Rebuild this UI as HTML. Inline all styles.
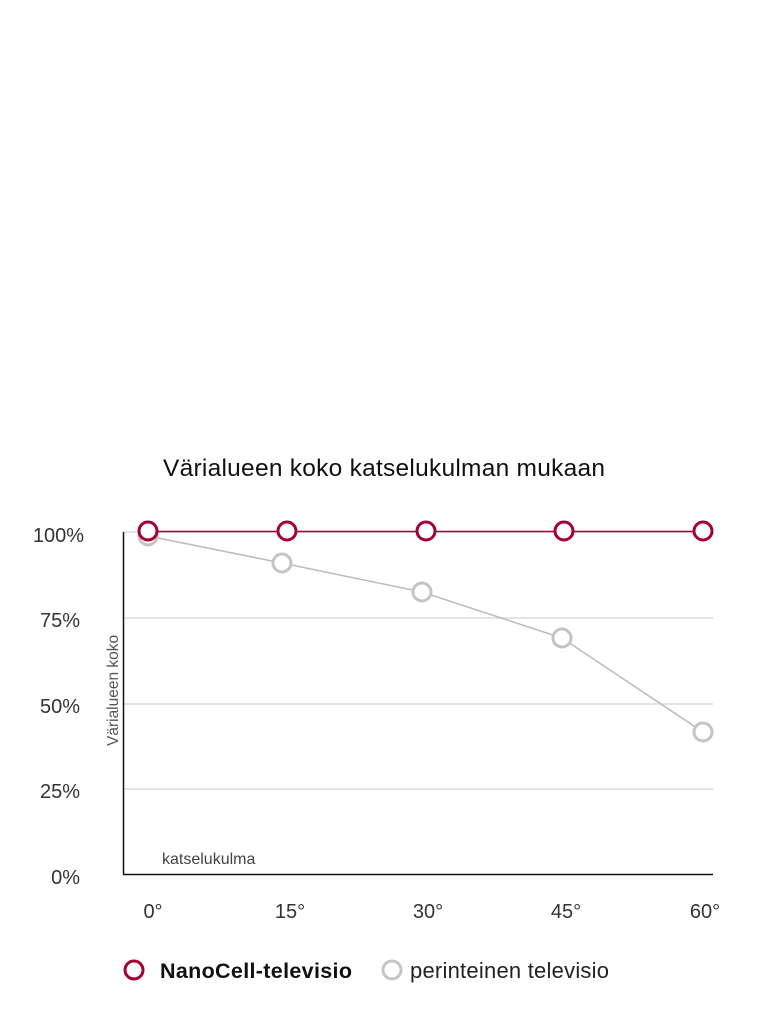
<!DOCTYPE html>
<html><head><meta charset="utf-8"><style>
html,body{margin:0;padding:0;background:#fff;}
body{width:768px;height:1031px;overflow:hidden;}
text{font-family:"Liberation Sans",sans-serif;}
</style></head><body>
<svg width="768" height="1031" viewBox="0 0 768 1031" xmlns="http://www.w3.org/2000/svg">
<text x="384" y="476" text-anchor="middle" font-size="24.5" fill="#111" textLength="442">Värialueen koko katselukulman mukaan</text>
<g stroke="#dcdcdc" stroke-width="1.5">
<line x1="123" y1="532" x2="713" y2="532"/>
<line x1="123" y1="618" x2="713" y2="618"/>
<line x1="123" y1="704" x2="713" y2="704"/>
<line x1="123" y1="789" x2="713" y2="789"/>
</g>
<line x1="123.5" y1="532" x2="123.5" y2="874" stroke="#111" stroke-width="1.5"/>
<line x1="123" y1="874.5" x2="713" y2="874.5" stroke="#111" stroke-width="1.5"/>
<g font-size="20" fill="#333" text-anchor="end">
<text x="84" y="542">100%</text>
<text x="80" y="627">75%</text>
<text x="80" y="713">50%</text>
<text x="80" y="798">25%</text>
<text x="80" y="884">0%</text>
</g>
<text transform="translate(118,746) rotate(-90)" font-size="15.5" fill="#555">Värialueen koko</text>
<text x="162" y="864" font-size="16" fill="#444">katselukulma</text>
<g font-size="20" fill="#333" text-anchor="middle">
<text x="153" y="918">0°</text>
<text x="290" y="918">15°</text>
<text x="428" y="918">30°</text>
<text x="566" y="918">45°</text>
<text x="705" y="918">60°</text>
</g>
<polyline points="148,536 282,563 422,592 562,638 703,732" fill="none" stroke="#bbb" stroke-width="1.5"/>
<g fill="#fff" stroke="#c4c4c4" stroke-width="3">
<circle cx="148" cy="536" r="9"/><circle cx="282" cy="563" r="9"/><circle cx="422" cy="592" r="9"/><circle cx="562" cy="638" r="9"/><circle cx="703" cy="732" r="9"/>
</g>
<line x1="148" y1="531.5" x2="703" y2="531.5" stroke="#a50034" stroke-width="1.5"/>
<g fill="#fff" stroke="#a50034" stroke-width="3">
<circle cx="148" cy="531" r="9"/><circle cx="287" cy="531" r="9"/><circle cx="426" cy="531" r="9"/><circle cx="564" cy="531" r="9"/><circle cx="703" cy="531" r="9"/>
</g>
<circle cx="134" cy="970" r="9" fill="#fff" stroke="#a50034" stroke-width="3"/>
<text x="160" y="978" font-size="21.5" font-weight="bold" fill="#111" textLength="192">NanoCell-televisio</text>
<circle cx="392" cy="970" r="9" fill="#fff" stroke="#c4c4c4" stroke-width="3"/>
<text x="410" y="978" font-size="22" fill="#222" textLength="199">perinteinen televisio</text>
</svg>
</body></html>
